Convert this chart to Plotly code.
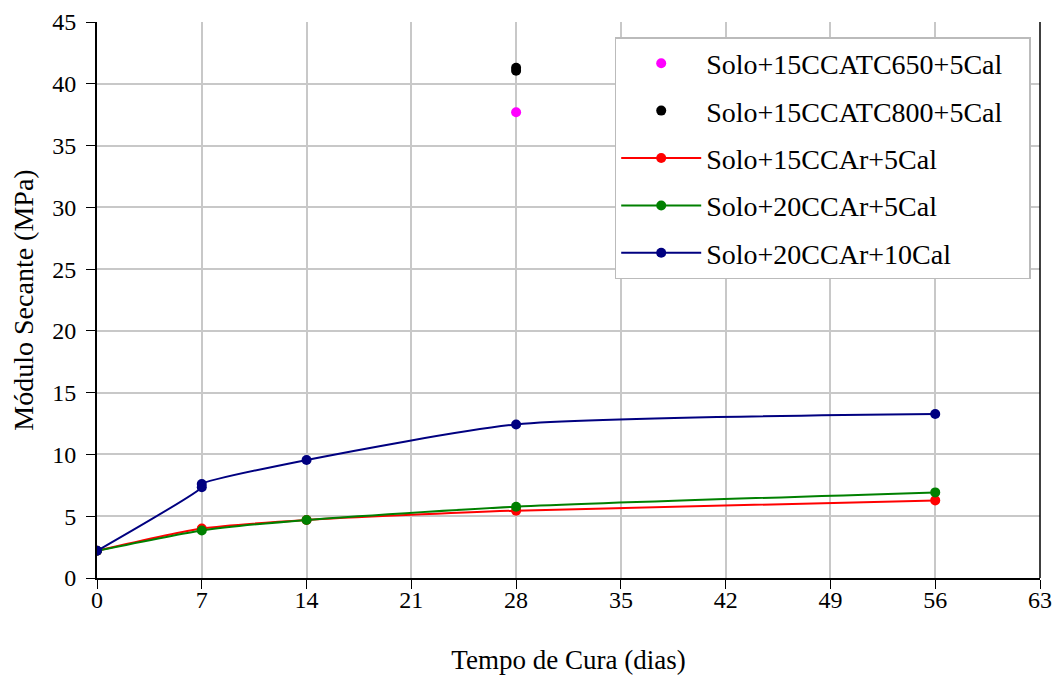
import plotly.graph_objects as go

x_tc650 = [28]
y_tc650 = [37.7]
x_tc800 = [28, 28]
y_tc800 = [41.05, 41.3]

x_ccar = [0, 7, 14, 28, 56]
y_15ccar_5cal = [2.2, 4.0, 4.7, 5.45, 6.28]
y_20ccar_5cal = [2.2, 3.85, 4.7, 5.77, 6.93]
x_10cal = [0, 7, 7, 14, 28, 56]
y_20ccar_10cal = [2.2, 7.35, 7.6, 9.55, 12.43, 13.27]

x_ticks = [0, 7, 14, 21, 28, 35, 42, 49, 56, 63]
y_ticks = [0, 5, 10, 15, 20, 25, 30, 35, 40, 45]

font = "Liberation Serif"
pad = "\u00a0" * 3

fig = go.Figure()
fig.add_trace(go.Scatter(x=x_tc650, y=y_tc650, mode="markers", name="Solo+15CCATC650+5Cal",
                         marker=dict(color="#FF00FF", size=10), legendgroup="a"))
fig.add_trace(go.Scatter(x=x_tc800, y=y_tc800, mode="markers", name="Solo+15CCATC800+5Cal" + pad,
                         marker=dict(color="#000000", size=10), legendgroup="b"))
fig.add_trace(go.Scatter(x=x_ccar, y=y_15ccar_5cal, mode="lines+markers", name="Solo+15CCAr+5Cal",
                         line=dict(color="#FF0000", width=2, shape="spline", smoothing=0.6),
                         marker=dict(color="#FF0000", size=10), legendgroup="c"))
fig.add_trace(go.Scatter(x=x_ccar, y=y_20ccar_5cal, mode="lines+markers", name="Solo+20CCAr+5Cal",
                         line=dict(color="#008000", width=2, shape="spline", smoothing=0.6),
                         marker=dict(color="#008000", size=10), legendgroup="d"))
fig.add_trace(go.Scatter(x=x_10cal, y=y_20ccar_10cal, mode="lines+markers", name="Solo+20CCAr+10Cal",
                         line=dict(color="#000080", width=2, shape="spline", smoothing=0.6),
                         marker=dict(color="#000080", size=10), legendgroup="e"))

fig.add_shape(type="line", xref="x domain", yref="y domain", x0=1, x1=1, y0=0, y1=1,
              line=dict(color="black", width=1.5))

fig.update_layout(
    width=1052, height=667,
    margin=dict(l=89, r=20, t=14, b=97, autoexpand=False),
    paper_bgcolor="white", plot_bgcolor="white",
    font=dict(family=font, size=24, color="black"),
    showlegend=True,
    legend=dict(x=0.549, y=0.973, xanchor="left", yanchor="top",
                bgcolor="white", bordercolor="#BBBBBB", borderwidth=1.5,
                font=dict(family=font, size=28), tracegroupgap=8,
                itemwidth=80),
    xaxis=dict(range=[0, 63], tickvals=x_ticks, ticktext=[str(v) for v in x_ticks],
               showgrid=True, gridcolor="#C8C8C8", gridwidth=1.5,
               showline=True, linecolor="black", linewidth=2, automargin=False,
               ticks="outside", ticklen=9, tickcolor="black", zeroline=False,
               ticklabelstandoff=-10,
               title=dict(text="Tempo de Cura (dias)", font=dict(family=font, size=27), standoff=40),
               tickfont=dict(family=font, size=24)),
    yaxis=dict(range=[0, 45], tickvals=y_ticks, ticktext=[str(v) for v in y_ticks],
               showgrid=True, gridcolor="#C8C8C8", gridwidth=1.5,
               showline=True, linecolor="black", linewidth=2, automargin=False,
               ticks="outside", ticklen=9, tickcolor="black", zeroline=False,
               ticklabelstandoff=5,
               title=dict(text="Módulo Secante (MPa)", font=dict(family=font, size=28), standoff=27),
               tickfont=dict(family=font, size=24)),
)

fig.write_html("out.html")
